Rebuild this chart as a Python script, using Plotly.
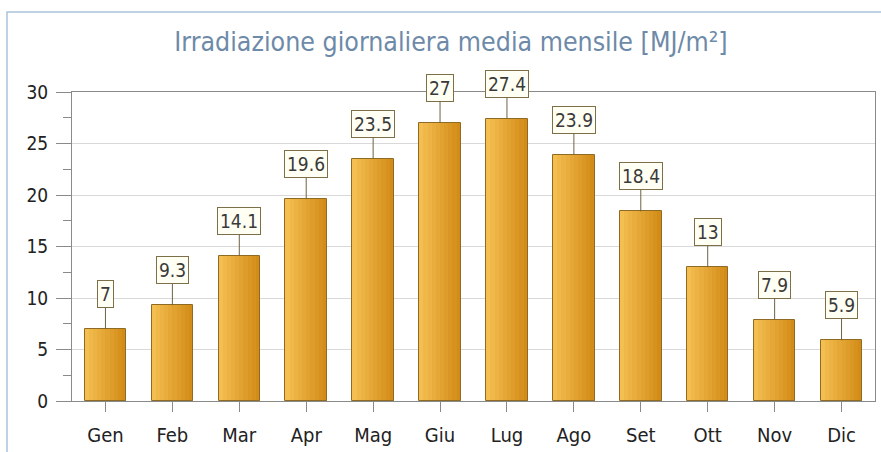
import plotly.graph_objects as go

months = ["Gen", "Feb", "Mar", "Apr", "Mag", "Giu", "Lug", "Ago", "Set", "Ott", "Nov", "Dic"]
values = [7, 9.3, 14.1, 19.6, 23.5, 27, 27.4, 23.9, 18.4, 13, 7.9, 5.9]
labels = ["7", "9.3", "14.1", "19.6", "23.5", "27", "27.4", "23.9", "18.4", "13", "7.9", "5.9"]
y_ticks = [0, 5, 10, 15, 20, 25, 30]

W, H = 881, 452
L, R, T, B = 72, 6, 92, 51
pw, ph = W - L - R, H - T - B
FONT = "DejaVu Sans Condensed, DejaVu Sans"

fig = go.Figure()

# simulated horizontal gradient: overlay narrow bar slices
bw = 0.62
n = 10
cols_l = (244, 190, 80)
cols_r = (212, 140, 24)
for i in range(n):
    t = i / (n - 1)
    c = tuple(int(cols_l[k] + (cols_r[k] - cols_l[k]) * t) for k in range(3))
    fig.add_trace(go.Bar(
        x=months, y=values,
        width=bw / n, offset=-bw / 2 + i * bw / n,
        marker=dict(color="rgb(%d,%d,%d)" % c, line=dict(width=0)),
        hoverinfo="skip", showlegend=False,
    ))
fig.add_trace(go.Bar(
    x=months, y=values, width=bw, offset=-bw / 2,
    marker=dict(color="rgba(0,0,0,0)", line=dict(color="#8f6a22", width=1)),
    showlegend=False,
))

for m, v, lab in zip(months, values, labels):
    fig.add_annotation(
        x=m, y=v, text=lab, showarrow=True, arrowhead=0, arrowwidth=1,
        arrowcolor="#6f6240", ax=0, ay=-35,
        bordercolor="#7d6f48", borderwidth=1, borderpad=2,
        bgcolor="#fffff4", font=dict(family=FONT, size=19, color="#3a3a3a"),
    )

# outer frame border
fig.add_shape(type="rect", xref="paper", yref="paper",
              x0=(7 - L) / pw, x1=(W + 20 - L) / pw,
              y0=-(H + 20 - T - ph) / ph, y1=1 + (T - 12) / ph,
              line=dict(color="#a9c3da", width=1.5), layer="below")

fig.update_layout(
    width=W, height=H,
    margin=dict(l=L, r=R, t=T, b=B),
    paper_bgcolor="white", plot_bgcolor="white",
    barmode="overlay", bargap=0,
    title=dict(text="Irradiazione giornaliera media mensile [MJ/m²]",
               x=451 / W, xanchor="center", y=1 - 42 / H, yanchor="middle",
               font=dict(family=FONT, size=26.5, color="#6d8aa8")),
    font=dict(family=FONT, size=18, color="#222222"),
)
fig.update_xaxes(
    showgrid=False, ticks="outside", ticklen=10, tickcolor="#8a8a8a",
    showline=True, linecolor="#8a8a8a", mirror=True,
    tickfont=dict(family=FONT, size=20, color="#222222"),
    ticklabelstandoff=6,
)
fig.update_yaxes(
    range=[0, 30], tickvals=y_ticks, showgrid=True, gridcolor="#d9d9d9",
    ticks="outside", ticklen=15, tickcolor="#8a8a8a",
    minor=dict(dtick=2.5, ticks="outside", ticklen=8, tickcolor="#8a8a8a", showgrid=False),
    showline=True, linecolor="#8a8a8a", mirror=True, zeroline=False,
    tickfont=dict(family=FONT, size=19, color="#222222"),
    ticklabelstandoff=4,
)

fig.write_html("out.html")
